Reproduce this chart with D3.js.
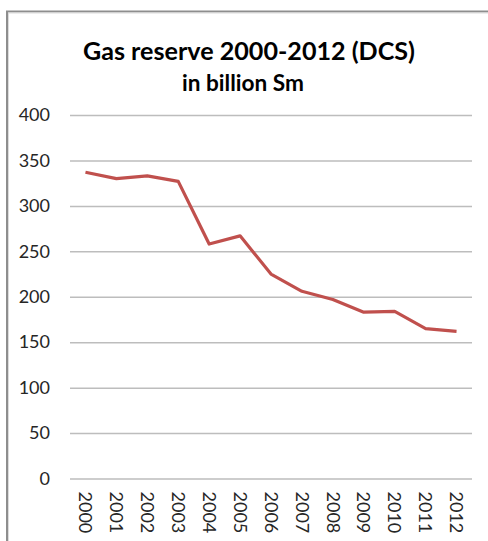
<!DOCTYPE html>
<html>
<head>
<meta charset="utf-8">
<script src="https://cdn.jsdelivr.net/npm/d3@7/dist/d3.min.js"></script>
<style>
  html, body { margin: 0; padding: 0; background: #fff; }
  svg { display: block; }
</style>
</head>
<body>
<div id="chart"></div>
<script>
// Gas reserve on the Dutch continental shelf, 2000-2012
const years = ["2000", "2001", "2002", "2003", "2004", "2005", "2006",
               "2007", "2008", "2009", "2010", "2011", "2012"];
const reserve = [337, 330, 333, 327, 258, 267, 225, 206, 197, 183, 184, 165, 162];
const yTicks = [0, 50, 100, 150, 200, 250, 300, 350, 400];
const titleText = "Gas reserve 2000-2012 (DCS)";
const subtitleText = "in billion Sm";

const W = 488, H = 541;
const plot = { left: 70, right: 472, top: 115, bottom: 478.5 };
const fontFamily = "Lato, 'Open Sans', 'DejaVu Sans', sans-serif";

const svg = d3.select("#chart").append("svg")
  .attr("width", W).attr("height", H);

// chart frame (runs off the right and bottom edges)
svg.append("path")
  .attr("d", `M7,${H + 5} L7,11.5 L${W + 5},11.5`)
  .attr("fill", "none")
  .attr("stroke", "#8e8e8e")
  .attr("stroke-width", 2);
svg.append("path")
  .attr("d", `M8.5,${H + 5} L8.5,13 L${W + 5},13`)
  .attr("fill", "none")
  .attr("stroke", "#dcdcdc")
  .attr("stroke-width", 1);

const x = d3.scaleBand().domain(years).range([plot.left, plot.right]);
const y = d3.scaleLinear().domain([0, 400]).range([plot.bottom, plot.top]);

// titles, sized to a fixed width
function fitText(sel, targetWidth) {
  const w = sel.node().getComputedTextLength();
  const fs = parseFloat(sel.attr("font-size"));
  sel.attr("font-size", fs * targetWidth / w);
}
const title = svg.append("text")
  .attr("x", 249).attr("y", 60)
  .attr("text-anchor", "middle")
  .attr("font-family", fontFamily)
  .attr("font-weight", "bold")
  .attr("font-size", 26)
  .attr("fill", "#000")
  .text(titleText);
fitText(title, 332);

const subtitle = svg.append("text")
  .attr("x", 243).attr("y", 90.5)
  .attr("text-anchor", "middle")
  .attr("font-family", fontFamily)
  .attr("font-weight", "bold")
  .attr("font-size", 18)
  .attr("fill", "#000")
  .text(subtitleText);
fitText(subtitle, 122);

// horizontal gridlines + y labels
const yAxis = d3.axisLeft(y)
  .tickValues(yTicks)
  .tickSize(-(plot.right - plot.left))
  .tickPadding(20)
  .tickFormat(d3.format("d"));
const gy = svg.append("g")
  .attr("transform", `translate(${plot.left},0)`)
  .call(yAxis);
gy.select(".domain").remove();
gy.selectAll(".tick line")
  .attr("stroke", "#bdbdbd")
  .attr("stroke-width", 1.5);
gy.selectAll(".tick text")
  .attr("font-family", fontFamily)
  .attr("font-size", 18)
  .attr("fill", "#262626");

// x labels, rotated to read top-to-bottom
const xAxis = d3.axisBottom(x).tickSize(0).tickPadding(0);
const gx = svg.append("g")
  .attr("transform", `translate(0,${plot.bottom})`)
  .call(xAxis);
gx.select(".domain").remove();
gx.selectAll(".tick text")
  .attr("font-family", fontFamily)
  .attr("font-size", 18)
  .attr("fill", "#262626")
  .attr("text-anchor", "start")
  .attr("transform", "rotate(90)")
  .attr("x", 13)
  .attr("y", 0)
  .attr("dy", "0.35em");

// reserve line
const line = d3.line()
  .x((d, i) => x(years[i]) + x.bandwidth() / 2)
  .y(d => y(d));
svg.append("path")
  .datum(reserve)
  .attr("d", line)
  .attr("fill", "none")
  .attr("stroke", "#c0504d")
  .attr("stroke-width", 3.2)
  .attr("stroke-linejoin", "round")
  .attr("stroke-linecap", "butt");
</script>
</body>
</html>
